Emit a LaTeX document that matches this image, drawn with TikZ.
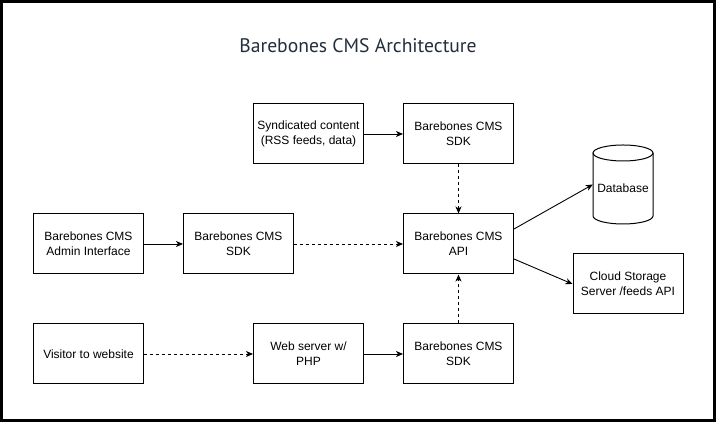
\documentclass[tikz,border=0pt]{standalone}
\usepackage{fontspec}
\setmainfont{Liberation Sans}
\newfontfamily\titlefont{PT Sans}
\usepackage{xcolor}
\usetikzlibrary{arrows.meta}
\definecolor{titleblue}{RGB}{35,45,60}

\begin{document}
\begin{tikzpicture}[x=1pt, y=1pt,
             blk/.style={draw, line width=1pt, minimum width=110pt, minimum height=60pt, inner sep=0pt, align=center, font=\fontsize{12}{15}\selectfont},
             arr/.style={line width=0.9pt, -{Stealth[length=7pt, width=6pt, inset=2pt]}},
             darr/.style={arr, dash pattern=on 3pt off 3pt}]
             \useasboundingbox (0, 0) rectangle (716, 422);
             \draw[line width=3pt] (1.5, 1.5) rectangle (714.5, 420.5);

             \node[draw=none, text=titleblue, font=\titlefont\fontsize{19.6}{24}\selectfont] (title) at (358, 376) {Barebones CMS Architecture};

             \node[blk] (syn) at (308.5, 288) {Syndicated content\\(RSS feeds, data)};
             \node[blk] (sdktop) at (458.5, 288) {Barebones CMS\\SDK};

             \node[blk] (admin) at (88.5, 178) {Barebones CMS\\Admin Interface};
             \node[blk] (sdkmid) at (238.5, 178) {Barebones CMS\\SDK};
             \node[blk] (api) at (458.5, 178) {Barebones CMS\\API};

             \node[blk] (visitor) at (88.5, 68) {Visitor to website};
             \node[blk] (web) at (308.5, 68) {Web server w/\\PHP};
             \node[blk] (sdkbot) at (458.5, 68) {Barebones CMS\\SDK};

             \node[blk] (cloud) at (628, 138) {Cloud Storage\\Server /feeds API};

             % database cylinder
             \draw[line width=1pt] (593, 269) -- (593, 206) arc[start angle=180, end angle=360, x radius=30, y radius=8] -- (653, 269);
             \draw[line width=1pt] (623, 269) ellipse (30 and 8);
             \node[draw=none, minimum width=60pt, minimum height=80pt, text height=20pt, text depth=3pt, font=\fontsize{12}{15}\selectfont] (db) at (623, 237.5) {Database};

             \draw[arr] (syn) -- (sdktop);
             \draw[darr] (sdktop) -- (api);
             \draw[arr] (admin) -- (sdkmid);
             \draw[darr] (sdkmid) -- (api);
             \draw[darr] (visitor) -- (web);
             \draw[arr] (web) -- (sdkbot);
             \draw[darr] (sdkbot) -- (api);
             \draw[arr] ([yshift=15pt]api.east) -- (db.west);
             \draw[arr] ([yshift=-15pt]api.east) -- (cloud.west);
\end{tikzpicture}
\end{document}
